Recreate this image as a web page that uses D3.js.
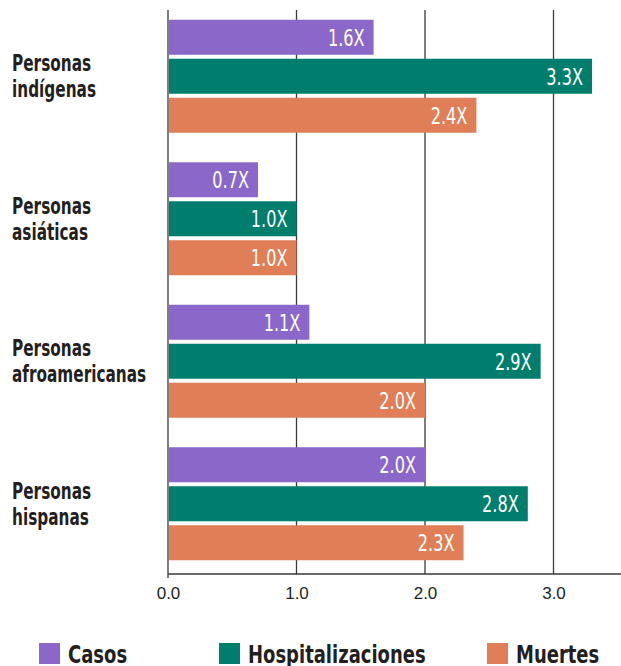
<!DOCTYPE html>
<html>
<head>
<meta charset="utf-8">
<script src="https://cdn.jsdelivr.net/npm/d3@7"></script>
<style>
  body { margin: 0; background: #fff; }
  svg { display: block; }
  .cond { font-family: 'DejaVu Sans Condensed', 'DejaVu Sans', sans-serif; }
</style>
</head>
<body>
<div id="chart"></div>
<script>
// groups (two-line labels) and series
var groups = ["indigenas", "asiaticas", "afroamericanas", "hispanas"];
var groupLabels = [
	["Personas", "indígenas"],
	["Personas", "asiáticas"],
	["Personas", "afroamericanas"],
	["Personas", "hispanas"]
];
var series = ["Casos", "Hospitalizaciones", "Muertes"];
var casos = [1.6, 0.7, 1.1, 2.0];
var hospitalizaciones = [3.3, 1.0, 2.9, 2.8];
var muertes = [2.4, 1.0, 2.0, 2.3];
var ticks = [0, 1, 2, 3];

var colors = ["#8a67c9", "#007e6d", "#e07f57"];
var ink = "#231f20";

var width = 621, height = 666;
var axisY = 574;
// horizontal squeeze to mimic the narrow original typeface
var squeezeLabel = 0.74, squeezeValue = 0.78, squeezeLegend = 0.8;

var svg = d3.select("#chart")
	.append("svg")
	.attr("width", width)
	.attr("height", height);

var x = d3.scaleLinear()
	.domain([0, 3])
	.range([168, 553.5]);

var y0 = d3.scaleBand()
	.domain(groups)
	.range([5, 575])
	.paddingInner(0.207)
	.paddingOuter(0.1035);

var y1 = d3.scaleBand()
	.domain(series)
	.range([0, y0.bandwidth()])
	.paddingInner(0.1026);

var values = [casos, hospitalizaciones, muertes];

// gridlines (the 0 line doubles as the left axis)
svg.append("g")
	.selectAll("line")
	.data(ticks)
	.enter().append("line")
	.attr("x1", d => x(d))
	.attr("x2", d => x(d))
	.attr("y1", 10)
	.attr("y2", d => d === 0 ? axisY + 4 : axisY)
	.attr("stroke", "#3a3a3a")
	.attr("stroke-width", 1.3);

// bottom axis
var xAxis = d3.axisBottom(x)
	.tickValues(ticks)
	.tickFormat(d3.format(".1f"))
	.tickSize(0);

var axisG = svg.append("g")
	.attr("transform", "translate(0," + axisY + ")")
	.call(xAxis)
	.attr("font-size", 17)
	.attr("font-family", "'Liberation Sans', Arial, sans-serif");
axisG.select(".domain").remove();
axisG.selectAll("text")
	.attr("y", 25)
	.attr("dy", 0)
	.attr("fill", ink);

svg.append("line")
	.attr("x1", x(0))
	.attr("x2", width)
	.attr("y1", axisY)
	.attr("y2", axisY)
	.attr("stroke", "#3a3a3a")
	.attr("stroke-width", 1.3);

// bars
var groupG = svg.selectAll(".group")
	.data(groups)
	.enter().append("g")
	.attr("class", "group")
	.attr("transform", d => "translate(0," + y0(d) + ")");

function rows(g, gi) {
	return series.map((s, si) => ({ s: s, si: si, v: values[si][gi] }));
}

groupG.selectAll("rect")
	.data(rows)
	.enter().append("rect")
	.attr("x", x(0) + 1)
	.attr("y", d => y1(d.s))
	.attr("width", d => x(d.v) - x(0) - 1)
	.attr("height", y1.bandwidth())
	.attr("fill", d => colors[d.si]);

groupG.selectAll(".val")
	.data(rows)
	.enter().append("text")
	.attr("class", "val cond")
	.attr("transform", d => "translate(" + (x(d.v) - 9) + "," + (y1(d.s) + y1.bandwidth() / 2 + 8.5) + ") scale(" + squeezeValue + ",1)")
	.attr("text-anchor", "end")
	.attr("fill", "#fff")
	.style("font-size", "23px")
	.text(d => d3.format(".1f")(d.v) + "X");

// category labels
groupG.append("g")
	.attr("transform", "translate(12," + (y0.bandwidth() / 2 - 5) + ") scale(" + squeezeLabel + ",1)")
	.append("text")
	.attr("class", "cond")
	.attr("fill", ink)
	.style("font-size", "23px")
	.style("font-weight", "bold")
	.selectAll("tspan")
	.data((g, gi) => groupLabels[gi])
	.enter().append("tspan")
	.attr("x", 0)
	.attr("y", (d, i) => i * 26)
	.text(d => d);

// legend
var legendX = [39, 219, 487];
var legend = svg.selectAll(".legend")
	.data(series)
	.enter().append("g")
	.attr("class", "legend")
	.attr("transform", (d, i) => "translate(" + legendX[i] + ",643)");

legend.append("rect")
	.attr("width", 21)
	.attr("height", 21)
	.attr("fill", (d, i) => colors[i]);

legend.append("text")
	.attr("class", "cond")
	.attr("transform", "translate(29,20) scale(" + squeezeLegend + ",1)")
	.attr("fill", ink)
	.style("font-size", "25px")
	.style("font-weight", "bold")
	.text(d => d);
</script>
</body>
</html>
